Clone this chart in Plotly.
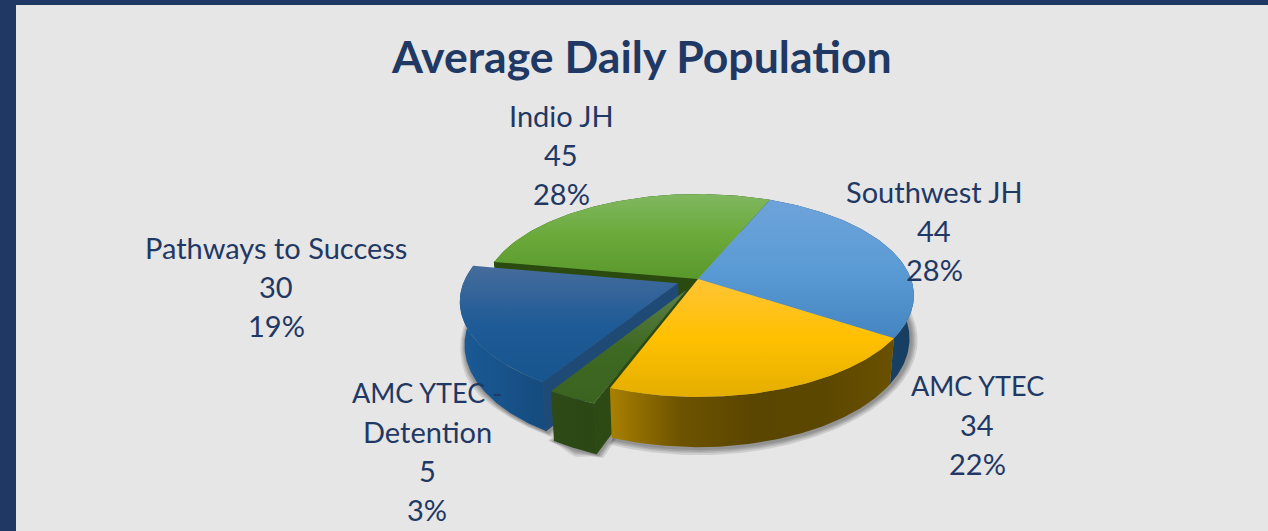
import numpy as np
import plotly.graph_objects as go

# --- data ---
categories = ["Southwest JH", "AMC YTEC", "AMC YTEC -|Detention", "Pathways to Success", "Indio JH"]
values = [44, 34, 5, 30, 45]
percents = ["28%", "22%", "3%", "19%", "28%"]

# --- style / geometry ---
NAVY = "#1f3864"
BG = "#e6e6e6"
CX, CY = 698.0, 279.0
R, B, K = 213.0, 98.8, 0.1626
DEPTH, BOTTOM_SCALE = 42.0, 0.98
START = -67.2
EXPLODE = [0, 0, 26, 22, 0]

top_colors = [
    ["#4484c0", "#5b9bd5", "#6ea3da"],
    ["#e4ae00", "#ffc000", "#ffc436"],
    ["#3a6320", "#3f6a22", "#5c7e48"],
    ["#17558f", "#1f5b96", "#466c9c"],
    ["#5a982c", "#6aa93a", "#80b860"],
]
wall_colors = [
    ["#1b4a72", "#173e60"],
    ["#a98000", "#6d5300", "#5b4600", "#5c4700", "#6a5100"],
    ["#2e4a16", "#2b4714"],
    ["#1a5a96", "#154b7e"],
    ["#2a4a10", "#2a4a10"],
]
inner_wall = ["#1f4a76", "#2d4a15", "#2a4a10"]

total = sum(values)
spans = [v / total * 360 for v in values]
edges = START + np.concatenate([[0], np.cumsum(spans)])


def project(u, v, lower=False):
    f = np.asarray(v, float) / R
    s = 1 / (1 - K * f)
    x = np.asarray(u, float) * s
    y = B * f * s
    if lower:
        return CX + x * BOTTOM_SCALE, CY + y + DEPTH * s
    return CX + x, CY + y


def plane(i):
    a0, a1 = edges[i], edges[i + 1]
    mid = np.radians((a0 + a1) / 2)
    du, dv = EXPLODE[i] * np.cos(mid), EXPLODE[i] * np.sin(mid)
    th = np.radians(np.linspace(a0, a1, 90))
    return R * np.cos(th) + du, R * np.sin(th) + dv, du, dv


def scale_of(cols):
    return [[j / (len(cols) - 1), c] for j, c in enumerate(cols)]


fig = go.Figure()


def poly(x, y, cols, direction="vertical"):
    fig.add_trace(go.Scatter(
        x=list(x), y=list(y), mode="lines", fill="toself", line=dict(width=0),
        fillgradient=dict(type=direction, colorscale=scale_of(cols)),
        hoverinfo="skip", showlegend=False))


def flat(x, y, color, edge=0):
    fig.add_trace(go.Scatter(
        x=list(x), y=list(y), mode="lines", fill="toself",
        line=dict(width=edge, color=color),
        fillcolor=color, hoverinfo="skip", showlegend=False))


def shadow(x, y, cx, cy):
    x, y = np.asarray(x), np.asarray(y)
    for grow in (7, 5, 3.5, 2):
        d = np.hypot(x - cx, (y - cy))
        flat(x + (x - cx) / d * grow + 1, y + (y - cy) / d * grow + 1, "rgba(40,40,40,0.13)")


def wedge(i, lower=False):
    u, v, du, dv = plane(i)
    px, py = project(u, v, lower)
    qx, qy = project(np.array([du]), np.array([dv]), lower)
    return np.r_[qx, px, qx], np.r_[qy, py, qy]


def outer_wall(i):
    u, v, _, _ = plane(i)
    tx, ty = project(u, v)
    bx, by = project(u, v, True)
    poly(np.r_[tx, bx[::-1], tx[0]], np.r_[ty, by[::-1], ty[0]], wall_colors[i], "horizontal")


def side_wall(i, edge, color):
    u, v, du, dv = plane(i)
    k = 0 if edge == 0 else -1
    uu, vv = np.array([du, u[k]]), np.array([dv, v[k]])
    tx, ty = project(uu, vv)
    bx, by = project(uu, vv, True)
    flat(np.r_[tx, bx[::-1], tx[0]], np.r_[ty, by[::-1], ty[0]], color, edge=1)


def top(i):
    x, y = wedge(i)
    poly(x, y, top_colors[i], "vertical")


# soft shadows below the pie
for i in (0, 1, 4):
    sx, sy = wedge(i, True)
    shadow(sx, sy, CX, CY + 45)
for i in (3, 2):
    sx, sy = wedge(i, True)
    shadow(sx, sy, sx.mean(), sy.mean())

# back-to-front painting
outer_wall(4)
side_wall(4, 0, inner_wall[2])
top(4)
outer_wall(0)
top(0)

outer_wall(3)
side_wall(3, 0, inner_wall[0])
top(3)

outer_wall(2)
side_wall(2, 0, inner_wall[1])
top(2)

outer_wall(1)
top(1)

fig.update_layout(
    width=1268, height=531, autosize=False,
    margin=dict(l=16, r=0, t=5, b=0),
    paper_bgcolor=NAVY, plot_bgcolor=BG, showlegend=False,
    xaxis=dict(range=[16, 1268], visible=False, fixedrange=True),
    yaxis=dict(range=[531, 5], visible=False, fixedrange=True),
)

FONT = "Lato, 'Open Sans', sans-serif"


def text(x, y, s, size, bold=False):
    fig.add_annotation(x=x, y=y, text=f"<b>{s}</b>" if bold else s, showarrow=False,
                       xanchor="center", yanchor="middle",
                       font=dict(family=FONT, size=size, color=NAVY))


text(641, 55, "Average Daily Population", 44.6, True)

label_pos = [(934, 191), (977, 385), (427, 392), (276, 247), (561, 115)]
for cat, val, pct, (lx, ly) in zip(categories, values, percents, label_pos):
    lines = cat.split("|") + [str(val), pct]
    for j, line in enumerate(lines):
        text(lx, ly + j * 39, line, 27 if line.startswith("AMC") else 29)

fig.write_html(
    "out.html",
    config={"displayModeBar": False},
    post_script="document.body.style.margin='0';document.body.style.overflow='hidden';",
)
